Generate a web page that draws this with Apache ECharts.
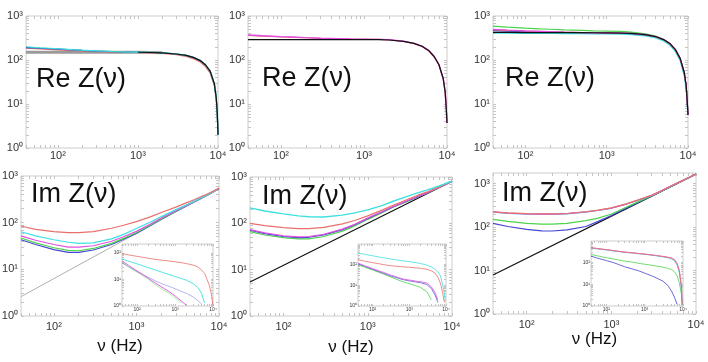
<!DOCTYPE html>
<html><head><meta charset="utf-8">
<script src="https://cdn.jsdelivr.net/npm/echarts@6/dist/echarts.min.js"></script>
<style>html,body{margin:0;padding:0;background:#fff}#c{width:708px;height:362px}</style>
</head><body><div id="c"></div>
<script>
// ---------- data ----------
const freqRe = [40,60,100,150,200,300,500,700,1000,1500,2000,3000,4000,5000,6000,7000,8000,9000,9500,9800,10000];
const re1Gray  = [150,150,150,150,150,150,150,150,150,149,147,null,null,null,null,null,null,null,null,null,null];
const re1Red   = [185,178,170,164,160,155,152,150,148,145,141,132,120,106,90,71,50,26,13,5.5,2];
const re1Green = [195,187,178,171,166,160,155,152,150,148,145,137,127,113,97,77,55,28.5,14,6,2];
const re1Blue  = [192,185,177,170,165,159,154,152,150,148,145,137,127,113,97,77,55,28.5,14,6,2];
const re1Cyan  = [200,190,180,172,167,161,156,153,151,149,146,138,128,114,98,78,56,29,14.5,6,2];
const re1Black = [null,null,null,null,null,null,null,null,150,148,145,137,127,113,97,77,55,29,14,6,2];

const re2Red     = [362,350,336,327,320,311,304,299,296,293,288,263,235,202,162,117,76,37,18.5,8,3.7];
const re2Magenta = [370,355,340,330,322,313,305,300,297,294,290,267,239,206,166,121,79,38.5,19,8,3.7];
const re2Black   = [290,290,290,290,290,290,290,290,290,289,285,265,238,205,165,120,78,38,19,8,3.7];

const re3Green   = [590,560,530,510,500,485,470,460,455,445,430,395,350,295,235,170,108,50,25,11,5.6];
const re3Magenta = [500,480,460,448,440,430,422,418,414,410,402,378,342,292,236,172,110,52,26,11,5.6];
const re3Red     = [490,473,456,445,437,428,420,416,412,408,400,376,340,290,234,171,109,51,25.5,11,5.6];
const re3Blue    = [465,452,442,435,430,423,418,414,410,406,398,373,337,288,232,169,107,50,25,11,5.6];
const re3Cyan    = [410,407,404,402,400,398,396,394,392,388,378,352,318,270,215,155,96,43,21,9,5.6];
const re3Black   = [425,423,421,420,419,418,417,416,415,410,401,376,341,291,236,172,110,52,26,11,5.6];

const freqIm = [40,60,100,150,200,300,500,700,1000,1500,2000,3000,4000,5000,6000,7000,8000,9000,10000];
const freqLine = [40,10000];
const im1Line    = [2.6,550];
const im1Red     = [85,72,64,61,61,64,76,88,105,135,165,215,265,310,360,400,450,500,550];
const im1Cyan    = [64,52,43,38,36,37,45,56,75,105,135,190,240,290,340,385,435,490,545];
const im1Magenta = [52,42,34,30,30,32,40,50,65,95,125,180,232,283,333,380,430,485,540];
const im1Green   = [47,37,29,25.5,25,28,36,46,61,90,120,176,228,280,330,378,428,483,538];
const im1Blue    = [43,34,26.5,23,23,26,34,44,59,88,118,174,226,278,328,376,426,481,536];

const im2Line    = [5.4,810];
const im2Cyan    = [215,185,160,145,139,137,150,168,195,245,300,385,460,520,580,640,700,760,815];
const im2Red     = [100,89,81,77,77,82,97,115,145,195,245,330,410,470,540,605,675,745,812];
const im2Magenta = [73,62,54,51,52,58,75,95,130,180,230,310,385,450,525,595,668,740,810];
const im2Blue    = [71,60,52,49,50,56,73,93,128,178,228,308,382,448,523,593,666,738,810];
const im2Green   = [66,56,49,46,46,52,68,88,122,172,222,302,377,445,520,590,663,737,810];

const im3Line    = [7.9,1650];
const im3Red     = [225,212,203,200,200,205,225,245,275,340,410,540,700,865,1025,1185,1345,1500,1655];
const im3Magenta = [223,210,201,198,198,203,223,243,273,338,408,538,698,863,1023,1183,1343,1498,1654];
const im3Cyan    = [220,207,198,195,195,200,220,240,270,335,405,535,695,860,1020,1180,1340,1497,1653];
const im3Green   = [150,135,122,117,117,122,140,160,200,285,370,525,688,852,1015,1177,1338,1497,1652];
const im3Blue    = [121,103,88,82,81,86,103,135,185,272,355,521,685,850,1012,1174,1336,1495,1651];

const freqIn = [40,60,100,150,200,300,500,700,1000,1500,2000,3000,4000,5000,6000,7000,8000,9000,9500,10000];
const in1Red     = [95,85,75,68,63,58,53,50,47,43,40,35,30,23,17,10,6,3,1.8,1];
const in1Cyan    = [60,49,39,32,28,23,18,15.5,13,10.8,9.4,7,5,3,1.3,null,null,null,null,null];
const in1Magenta = [50,34,21,14.5,11,7.5,4.7,3.5,2.4,1.5,1.05,null,null,null,null,null,null,null,null,null];
const in1Green   = [45,30,19,13,10,6.5,4,3,2,1.3,null,null,null,null,null,null,null,null,null,null];
const in1Blue    = [42,30,20,15,12,9,6.5,5.5,4.5,3.5,3,2.2,1.6,1.2,null,null,null,null,null,null];

const in2Cyan    = [360,320,270,235,215,190,165,152,140,125,115,95,78,60,45,30,12,4,2,null];
const in2Red     = [172,150,125,110,100,90,82,78,75,70,67,60,50,40,25,13,5,1.5,null,null];
const in2Magenta = [119,90,65,50,42,32,24,20,18,16,15,13,8.5,4.5,2,null,null,null,null,null];
const in2Blue    = [110,84,60,46,38,29,22,18.5,16.5,14.5,13.5,11,7,3.5,1.5,null,null,null,null,null];
const in2Green   = [99,75,55,42,35,26,18,14.5,12,9.5,8,5,2,null,null,null,null,null,null,null];

const in3Red     = [490,450,400,365,340,310,285,265,250,230,215,195,180,165,140,95,45,10,1.2,null];
const in3Magenta = [485,445,395,360,335,305,282,262,247,228,212,192,177,160,135,90,42,9,1.2,null];
const in3Cyan    = [470,430,385,350,328,300,275,257,242,222,207,185,168,148,120,78,35,7,1.1,null];
const in3Green   = [240,205,170,150,135,118,105,93,85,76,70,62,55,48,38,25,12,4,1.8,1.1];
const in3Blue    = [200,160,125,102,85,65,50,42,33,25,20,14,9,5,2.5,1.2,null,null,null,null];

// ---------- styling / layout ----------
const C = {red:'#e8706c', cyan:'#3fe0e0', magenta:'#e050e0', green:'#4cd44c', blue:'#4646d2', black:'#111111', gray:'#9a9a9a'};
const FONT = 'Liberation Sans';
const SUP = {'0':'\u2070','1':'\u00B9','2':'\u00B2','3':'\u00B3','4':'\u2074'};
function powLabel(v){ const e = Math.log10(v); const r = Math.round(e); if (Math.abs(e - r) > 1e-6) return ''; return '10' + SUP[String(r)]; }
function minors(min, max){ const out=[]; for (let e=-1;e<6;e++) for (let k=1;k<10;k++){ const v=+(k*Math.pow(10,e)).toPrecision(6); if (v>=min && v<=max) out.push(v);} return out; }
function pairs(xs, ys){ const out=[]; xs.forEach((x,i)=>{ if (ys[i]!=null) out.push([x, ys[i]]); }); return out; }

const panels = [
  {r:[26,16,192,132],   y:[1,1000], fs:11, xm:2, inset:false},
  {r:[248,16,199,132],  y:[1,1000], fs:11, xm:2, inset:false},
  {r:[493,16,195,132],  y:[1,1000], fs:11, xm:2, inset:false},
  {r:[21,176,198,140],  y:[1,1000], fs:11, xm:5, inset:false},
  {r:[250,177,202,139], y:[1,1000], fs:11, xm:5, inset:false},
  {r:[493,173,203,141], y:[1,1750], fs:11, xm:5, inset:false},
  {r:[122,244,91,62],   y:[1,220],  fs:5,  xm:1, inset:true},
  {r:[358,244,88,62],   y:[1,1000], fs:5,  xm:1, inset:true},
  {r:[591,241,92,65],   y:[1,1000], fs:5,  xm:1, inset:true}
];
const xNames = [null,null,null,{t:'\u03BD (Hz)',g:22},{t:'\u03BD (Hz)',g:23},{t:'\u03BD (Hz)',g:17},null,null,null];

const grid=[], xAxis=[], yAxis=[], mirrorX=[], mirrorY=[];
panels.forEach((p,i)=>{
  const z = p.inset ? 10 : 0;
  grid.push({left:p.r[0], top:p.r[1], width:p.r[2], height:p.r[3], show:true, borderColor:'#cdcdcd', borderWidth:1, backgroundColor:'#fff', z:z, outerBoundsMode:'none'});
  const tick = {show:true, inside:true, length:p.inset?2:3, lineStyle:{color:'#c4c4c4', width:1}};
  const xa = {type:'log', logBase:10, gridIndex:i, min:40, max:10000, z:z+2,
    axisLine:{show:false}, splitLine:{show:false},
    axisTick:Object.assign({customValues:minors(40,10000)}, tick),
    axisLabel:{formatter:powLabel, fontFamily:FONT, fontSize:p.fs, color:'#333', margin:p.xm}};
  if (xNames[i]) Object.assign(xa, {name:xNames[i].t, nameLocation:'middle', nameGap:xNames[i].g, nameTextStyle:{fontFamily:FONT, fontSize:17, color:'#111'}});
  xAxis.push(xa);
  yAxis.push({type:'log', logBase:10, gridIndex:i, min:p.y[0], max:p.y[1], z:z+2,
    axisLine:{show:false}, splitLine:{show:false},
    axisTick:Object.assign({customValues:minors(p.y[0],p.y[1])}, tick),
    axisLabel:{formatter:powLabel, fontFamily:FONT, fontSize:p.fs, color:'#333', margin:p.inset?1:3, showMaxLabel:!p.inset || i===6}});
  // mirrored tick marks on top and right sides of each box
  mirrorX.push({type:'log', logBase:10, gridIndex:i, position:'top', min:40, max:10000, z:z+2,
    axisLine:{show:false}, splitLine:{show:false}, axisLabel:{show:false},
    axisTick:Object.assign({customValues:minors(40,10000)}, tick)});
  mirrorY.push({type:'log', logBase:10, gridIndex:i, position:'right', min:p.y[0], max:p.y[1], z:z+2,
    axisLine:{show:false}, splitLine:{show:false}, axisLabel:{show:false},
    axisTick:Object.assign({customValues:minors(p.y[0],p.y[1])}, tick)});
});
xAxis.push(...mirrorX); yAxis.push(...mirrorY);

const series=[];
function add(idx, xs, ys, color, width, opacity){
  series.push({type:'line', xAxisIndex:idx, yAxisIndex:idx, data:pairs(xs,ys), showSymbol:false, symbol:'none', silent:true,
    z: panels[idx].inset ? 12 : 2, lineStyle:{color:color, width:width, opacity:opacity==null?1:opacity}, clip:true});
}
// Re panels
add(0,freqRe,re1Gray,C.gray,3);
add(0,freqRe,re1Red,C.red,1.2); add(0,freqRe,re1Green,C.green,1.2); add(0,freqRe,re1Blue,C.blue,1.2); add(0,freqRe,re1Cyan,C.cyan,1.2);
add(0,freqRe,re1Black,C.black,1.2);
add(1,freqRe,re2Red,C.red,1.2); add(1,freqRe,re2Magenta,C.magenta,1.4); add(1,freqRe,re2Black,C.black,1.2);
add(2,freqRe,re3Cyan,C.cyan,1.2); add(2,freqRe,re3Green,C.green,1.2); add(2,freqRe,re3Blue,C.blue,1.2);
add(2,freqRe,re3Red,C.red,1.2); add(2,freqRe,re3Magenta,C.magenta,1.2); add(2,freqRe,re3Black,C.black,1.2);
// Im panels
add(3,freqLine,im1Line,'#b0b0b0',1);
add(3,freqIm,im1Blue,C.blue,1.2); add(3,freqIm,im1Green,C.green,1.2); add(3,freqIm,im1Magenta,C.magenta,1.2);
add(3,freqIm,im1Cyan,C.cyan,1.2); add(3,freqIm,im1Red,C.red,1.2);
add(4,freqLine,im2Line,C.black,1.2);
add(4,freqIm,im2Green,C.green,1.2); add(4,freqIm,im2Blue,C.blue,1.2); add(4,freqIm,im2Magenta,C.magenta,1.2);
add(4,freqIm,im2Red,C.red,1.2); add(4,freqIm,im2Cyan,C.cyan,1.4);
add(5,freqLine,im3Line,C.black,1.2);
add(5,freqIm,im3Blue,C.blue,1.2); add(5,freqIm,im3Green,C.green,1.2); add(5,freqIm,im3Cyan,C.cyan,1.2);
add(5,freqIm,im3Magenta,C.magenta,1.2); add(5,freqIm,im3Red,C.red,1.2);
// insets
add(6,freqIn,in1Blue,C.blue,0.8,0.5); add(6,freqIn,in1Green,C.green,0.8,0.6); add(6,freqIn,in1Magenta,C.magenta,1,0.9);
add(6,freqIn,in1Cyan,C.cyan,1,0.9); add(6,freqIn,in1Red,C.red,1,0.8);
add(7,freqIn,in2Green,C.green,1,0.8); add(7,freqIn,in2Blue,C.blue,1,0.7); add(7,freqIn,in2Magenta,C.magenta,1,0.8);
add(7,freqIn,in2Red,C.red,1,0.8); add(7,freqIn,in2Cyan,C.cyan,1,0.8);
add(8,freqIn,in3Blue,C.blue,1,0.8); add(8,freqIn,in3Green,C.green,1,0.8); add(8,freqIn,in3Cyan,C.cyan,1,0.8);
add(8,freqIn,in3Magenta,C.magenta,1,0.8); add(8,freqIn,in3Red,C.red,1,0.8);

const titleStyle = {fontFamily:FONT, fontSize:27, fontWeight:'normal', color:'#111'};
const titles = [
  {text:'Re Z(\u03BD)', left:36, top:66}, {text:'Re Z(\u03BD)', left:262, top:65}, {text:'Re Z(\u03BD)', left:505, top:65},
  {text:'Im Z(\u03BD)', left:31, top:181}, {text:'Im Z(\u03BD)', left:262, top:183}, {text:'Im Z(\u03BD)', left:502, top:180}
].map(t=>Object.assign({padding:0, textStyle:titleStyle, z:20}, t));

const chart = echarts.init(document.getElementById('c'), null, {renderer:'canvas'});
chart.setOption({animation:false, backgroundColor:'#fff', title:titles, grid, xAxis, yAxis, series});
</script></body></html>
